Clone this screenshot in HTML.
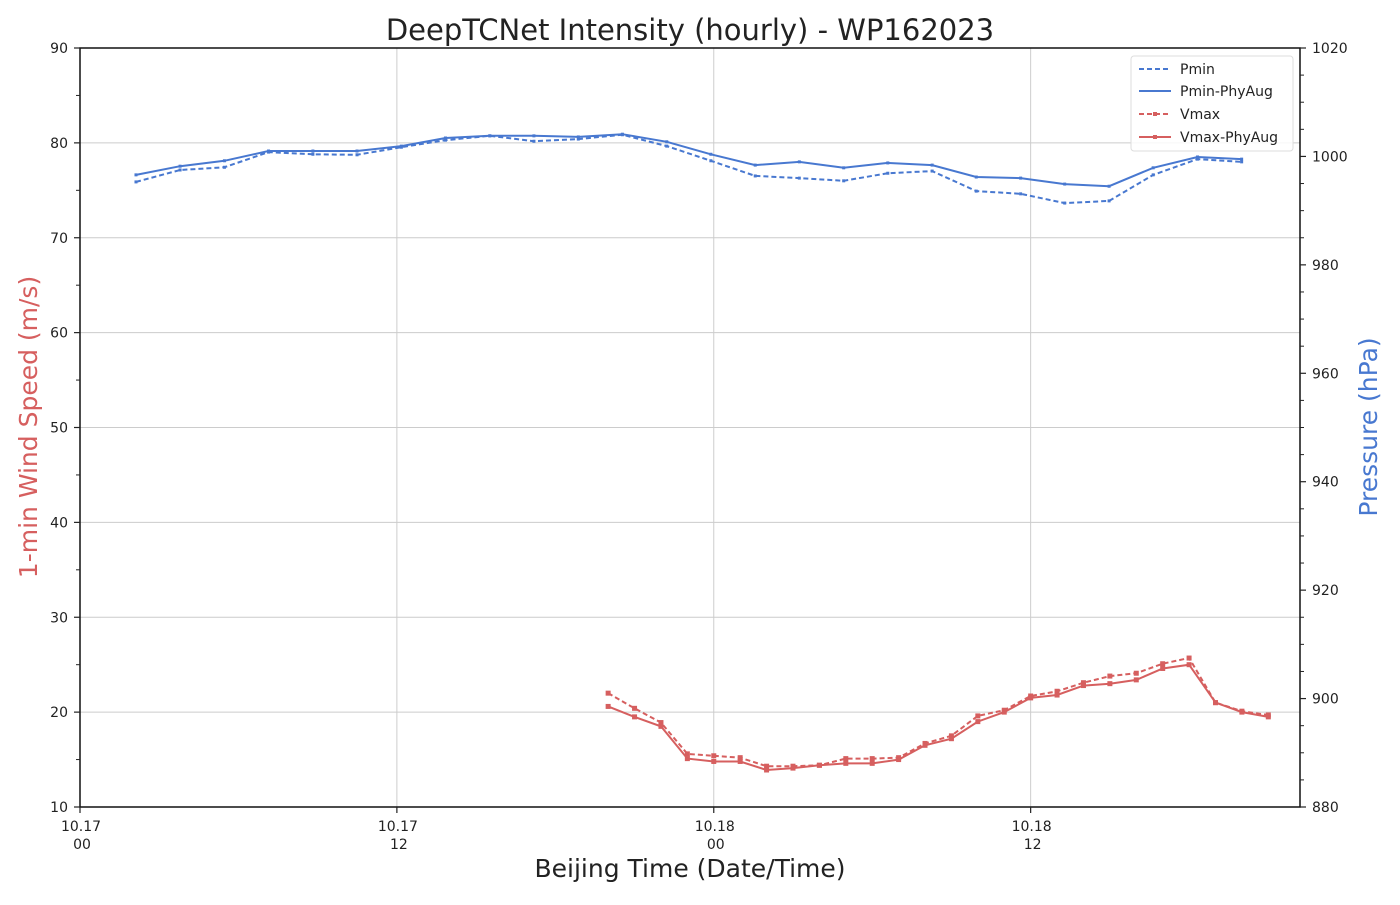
<!DOCTYPE html>
<html><head><meta charset="utf-8"><style>
body{margin:0;background:#fff;}
svg text{font-family:"DejaVu Sans","Liberation Sans",sans-serif;}
</style></head><body>
<svg id="chart" width="1400" height="900" xmlns="http://www.w3.org/2000/svg">
<rect width="1400" height="900" fill="#fff"/>
<g id="grid"></g>
<g id="series"></g>
<rect x="80" y="48" width="1220" height="759" fill="none" stroke="#111" stroke-width="1.5"/>
<g id="axes"></g>
<text x="690" y="40" font-size="29" text-anchor="middle" fill="#222">DeepTCNet Intensity (hourly) - WP162023</text>
<text x="690" y="877" font-size="25" text-anchor="middle" fill="#222">Beijing Time (Date/Time)</text>
<text transform="translate(37,427) rotate(-90)" font-size="25" text-anchor="middle" fill="#d65f5f">1-min Wind Speed (m/s)</text>
<text transform="translate(1377,427) rotate(-90)" font-size="25" text-anchor="middle" fill="#4878d0">Pressure (hPa)</text>
<g>
<rect x="1131" y="56" width="162" height="95" fill="#fff" fill-opacity="0.85" stroke="#ddd" rx="3"/>
<g><line x1="1139" y1="69" x2="1171" y2="69" stroke="#4878d0" stroke-width="2" stroke-dasharray="5,3"/><text x="1180" y="74" font-size="14" fill="#222">Pmin</text></g>
<g><line x1="1139" y1="91" x2="1171" y2="91" stroke="#4878d0" stroke-width="2"/><text x="1180" y="96" font-size="14" fill="#222">Pmin-PhyAug</text></g>
<g><line x1="1139" y1="114" x2="1171" y2="114" stroke="#d65f5f" stroke-width="2" stroke-dasharray="5,3"/><rect x="1153" y="112" width="4" height="4" fill="#d65f5f"/><text x="1180" y="119" font-size="14" fill="#222">Vmax</text></g>
<g><line x1="1139" y1="137" x2="1171" y2="137" stroke="#d65f5f" stroke-width="2"/><rect x="1153" y="135" width="4" height="4" fill="#d65f5f"/><text x="1180" y="142" font-size="14" fill="#222">Vmax-PhyAug</text></g>
</g>
</svg>
<script>
const pHours=[2.12,3.79,5.47,7.14,8.82,10.49,12.17,13.84,15.52,17.19,18.87,20.54,22.22,23.89,25.57,27.24,28.92,30.59,32.27,33.94,35.62,37.29,38.97,40.64,42.32,43.99];
const pminPhy=[996.6,998.2,999.2,1001,1001,1001,1001.9,1003.4,1003.8,1003.8,1003.6,1004.1,1002.7,1000.4,998.4,999.0,997.9,998.8,998.4,996.2,996.0,994.9,994.5,997.9,999.9,999.5];
const pmin=[995.3,997.5,998.0,1000.8,1000.4,1000.3,1001.7,1003.0,1003.8,1002.8,1003.2,1004.0,1001.9,999.2,996.4,996.0,995.5,996.9,997.3,993.6,993.1,991.4,991.8,996.6,999.5,999.0];
const vHours=[20,21,22,23,24,25,26,27,28,29,30,31,32,33,34,35,36,37,38,39,40,41,42,43,44,45];
const vmaxPhy=[20.6,19.5,18.5,15.1,14.8,14.8,13.9,14.1,14.4,14.6,14.6,15.0,16.5,17.2,19.0,20.0,21.5,21.8,22.8,23.0,23.4,24.6,25.0,21.0,20.0,19.5];
const vmax=[22.0,20.4,18.9,15.6,15.4,15.2,14.3,14.3,14.4,15.1,15.1,15.2,16.7,17.5,19.6,20.2,21.7,22.2,23.1,23.8,24.1,25.1,25.7,21.0,20.1,19.7];
const xTickHours=[0,12,24,36];
const xTickLabels=[["10.17","00"],["10.17","12"],["10.18","00"],["10.18","12"]];
const leftTicks=[10,20,30,40,50,60,70,80,90];
const rightTicks=[880,900,920,940,960,980,1000,1020];

const X=h=>80+h*(1300-80)/46.2;
const YL=v=>807-(v-10)*759/80;
const YR=p=>807-(p-880)*759/140;
const NS="http://www.w3.org/2000/svg";
function mk(tag,attrs,parent){const e=document.createElementNS(NS,tag);for(const k in attrs)e.setAttribute(k,attrs[k]);parent.appendChild(e);return e;}
const grid=document.getElementById('grid'),axes=document.getElementById('axes'),ser=document.getElementById('series');
leftTicks.forEach(v=>{
  const y=YL(v);
  if(v>10&&v<90){const g=mk('line',{x1:80,x2:1300,y1:y,y2:y,stroke:'#cccccc','stroke-width':1},grid);
  
  }
  mk('line',{x1:74,x2:80,y1:y,y2:y,stroke:'#222','stroke-width':1.2},axes);
  const t=mk('text',{x:68,y:y+5,'font-size':14,'text-anchor':'end',fill:'#222'},axes);t.textContent=v;
  
  
  if(v<90){mk('line',{x1:76,x2:80,y1:YL(v+5),y2:YL(v+5),stroke:'#222','stroke-width':1},axes);}
});
rightTicks.forEach(p=>{
  const y=YR(p);
  mk('line',{x1:1300,x2:1306,y1:y,y2:y,stroke:'#222','stroke-width':1.2},axes);
  const t=mk('text',{x:1312,y:y+5,'font-size':14,fill:'#222'},axes);t.textContent=p;
  
  
  if(p<1020){for(let k=1;k<4;k++)mk('line',{x1:1300,x2:1304,y1:YR(p+5*k),y2:YR(p+5*k),stroke:'#222','stroke-width':1},axes);}
});
xTickHours.forEach((h,i)=>{
  const x=X(h);
  if(i>0){const g=mk('line',{x1:x,x2:x,y1:48,y2:807,stroke:'#cccccc','stroke-width':1},grid);
  
  }
  mk('line',{x1:x,x2:x,y1:807,y2:813,stroke:'#222','stroke-width':1.2},axes);
  const t=mk('text',{x:x+1,y:831,'font-size':14,'text-anchor':'middle',fill:'#222'},axes);t.textContent=xTickLabels[i][0];
  
  
  const t2=mk('text',{x:x+2,y:849,'font-size':14,'text-anchor':'middle',fill:'#222'},axes);t2.textContent=xTickLabels[i][1];
  
  
});
function line(hours,vals,xf,yf,color,dash,marker,name){
  const pts=hours.map((h,i)=>xf(h).toFixed(1)+','+yf(vals[i]).toFixed(1)).join(' ');
  const pl=mk('polyline',{points:pts,fill:'none',stroke:color,'stroke-width':2,'stroke-dasharray':dash||'none'},ser);
  
  
  hours.forEach((h,i)=>{
    const m=mk('rect',{x:xf(h)-marker/2,y:yf(vals[i])-marker/2,width:marker,height:marker,fill:color},ser);
    
    
  });
}
line(pHours,pmin,X,YR,'#4878d0','5,3',3,'pmin-line');
line(pHours,pminPhy,X,YR,'#4878d0',null,3,'pmin-phyaug-line');
line(vHours,vmax,X,YL,'#d65f5f','5,3',5,'vmax-line');
line(vHours,vmaxPhy,X,YL,'#d65f5f',null,5,'vmax-phyaug-line');
</script>
</body></html>
